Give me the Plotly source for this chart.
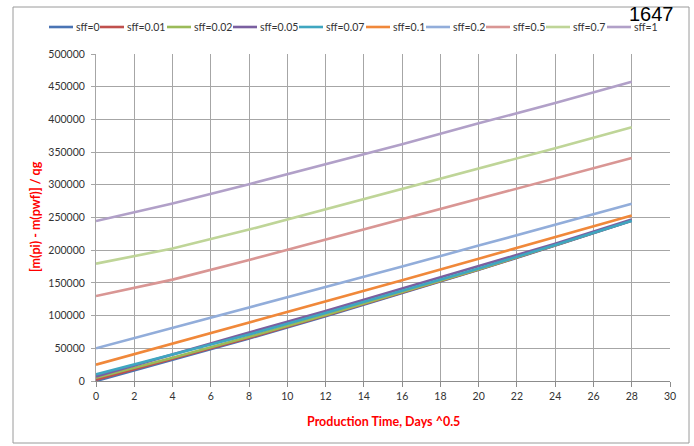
import plotly.graph_objects as go

# Square-root-of-time axis (days^0.5)
sqrt_days = [0, 4, 8, 12, 16, 20, 24, 28]

# Normalised pseudo-pressure drop, one series per fracture-face skin
series_names = ["sff=0", "sff=0.01", "sff=0.02", "sff=0.05", "sff=0.07",
                "sff=0.1", "sff=0.2", "sff=0.5", "sff=0.7", "sff=1"]
sff_0 = [0, 32000, 65000, 99000, 134000, 170000, 207000, 245000]
sff_001 = [2000, 33500, 66000, 100000, 135000, 170500, 207500, 245500]
sff_002 = [5000, 35500, 67500, 101000, 136000, 171000, 208000, 246000]
sff_005 = [7000, 41000, 74000, 107000, 141000, 175000, 210000, 247000]
sff_007 = [10000, 40000, 71000, 104000, 138000, 172000, 208000, 245000]
sff_01 = [25000, 57000, 89000, 121000, 154000, 187000, 220000, 253000]
sff_02 = [50000, 81000, 112000, 144000, 175000, 207000, 239000, 271000]
sff_05 = [130000, 155000, 185000, 216000, 247000, 278000, 309000, 341000]
sff_07 = [179500, 202500, 231500, 262500, 293500, 324500, 356000, 388000]
sff_1 = [244500, 271500, 301000, 331000, 362000, 394000, 425000, 457500]
series_values = [sff_0, sff_001, sff_002, sff_005, sff_007,
                 sff_01, sff_02, sff_05, sff_07, sff_1]

colors = ["#4A74B4", "#C0504D", "#9BBB59", "#7A5FA0", "#3FA6C0",
          "#F0883A", "#92ADDA", "#D99694", "#BFD598", "#B1A0C8"]

x_ticks = list(range(0, 31, 2))
y_ticks = list(range(0, 500001, 50000))

W, H = 694, 446
L, R, T, B = 96, 24, 54, 65
PW, PH = W - L - R, H - T - B


def px(xp):
    return (xp - L) / PW


def py(yp):
    return (H - B - yp) / PH


fig = go.Figure()
for name, vals, col in zip(series_names, series_values, colors):
    fig.add_trace(go.Scatter(x=sqrt_days, y=vals, mode="lines", name=name,
                             line=dict(color=col, width=2.6),
                             showlegend=False))

# Legend row across the top
legend_x = [49, 100, 167, 233, 299, 366, 426, 486, 546, 607]
shapes = []
annotations = []
for name, col, lx in zip(series_names, colors, legend_x):
    shapes.append(dict(type="line", xref="paper", yref="paper",
                       x0=px(lx), x1=px(lx + 24), y0=py(27), y1=py(27),
                       line=dict(color=col, width=2.6)))
    annotations.append(dict(text=name, xref="paper", yref="paper",
                            x=px(lx + 25), y=py(27), xanchor="left",
                            yanchor="middle", showarrow=False,
                            font=dict(family="Lato", size=10.5, color="#333333")))

# Chart-area frame
shapes.append(dict(type="rect", xref="paper", yref="paper",
                   x0=px(13), x1=px(689), y0=py(443), y1=py(7),
                   line=dict(color="#9a9a9a", width=1), layer="below"))

annotations.append(dict(text="[m(pi) - m(pwf)] / qg", xref="paper", yref="paper",
                        x=px(35), y=py(217), textangle=-90, showarrow=False,
                        xanchor="center", yanchor="middle",
                        font=dict(family="Lato", size=12.5, color="#FF0000",
                                  weight="bold")))
annotations.append(dict(text="Production Time, Days ^0.5", xref="paper", yref="paper",
                        x=px(383), y=py(421), showarrow=False,
                        xanchor="center", yanchor="middle",
                        font=dict(family="Lato", size=12.5, color="#FF0000",
                                  weight="bold")))
annotations.append(dict(text="1647", xref="paper", yref="paper",
                        x=px(651), y=py(1), showarrow=False,
                        xanchor="center", yanchor="top",
                        font=dict(family="Liberation Sans", size=20, color="#000000")))

fig.update_layout(
    width=W, height=H,
    margin=dict(l=L, r=R, t=T, b=B),
    paper_bgcolor="white", plot_bgcolor="white",
    shapes=shapes, annotations=annotations,
    xaxis=dict(range=[0, 30], tickvals=x_ticks, ticktext=[str(v) for v in x_ticks],
               showgrid=True, gridcolor="#a6a6a6", gridwidth=1,
               showline=True, linecolor="#8c8c8c", linewidth=1,
               ticks="outside", ticklen=5, tickcolor="#8c8c8c",
               zeroline=False, fixedrange=True,
               tickfont=dict(family="Lato", size=10.5, color="#333333")),
    yaxis=dict(range=[0, 500000], tickvals=y_ticks, ticktext=[str(v) for v in y_ticks],
               showgrid=True, gridcolor="#a6a6a6", gridwidth=1,
               showline=True, linecolor="#a6a6a6", linewidth=1,
               ticks="outside", ticklen=4, tickcolor="#a6a6a6",
               zeroline=False, fixedrange=True, ticklabelstandoff=4,
               tickfont=dict(family="Lato", size=10.5, color="#333333")),
)

fig.write_html("out.html")
